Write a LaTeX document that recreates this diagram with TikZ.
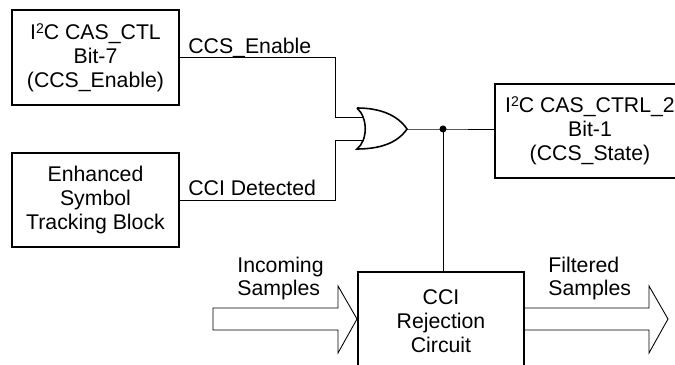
\documentclass[tikz,border=0pt]{standalone}
\usepackage{fontspec}
\setmainfont{Liberation Sans}
\newcommand{\itwoc}{I\raisebox{0.3em}{\fontsize{8}{8}\selectfont 2}C}
\tikzset{
  blockbox/.style={draw, line width=1pt, align=center, inner sep=0pt, font=\fontsize{12.1}{13.6}\selectfont},
  lowtext/.style={execute at begin node=\rule{0pt}{11.6pt}},
  wirelabel/.style={inner sep=0pt, align=left, font=\fontsize{12.1}{13.2}\selectfont},
  wire/.style={draw, line width=0.5pt},
}
\begin{document}
\begin{tikzpicture}
    \clip (0,0) rectangle (13.5,7.3);
    % blocks
    \node[blockbox, lowtext, minimum width=3.34cm, minimum height=1.9cm] (casctl) at (1.91, 6.15) {\itwoc{} CAS\_CTL\\Bit-7\\(CCS\_Enable)};
    \node[blockbox, lowtext, minimum width=3.34cm, minimum height=1.88cm] (tracking) at (1.91, 3.3) {Enhanced\\Symbol\\Tracking Block};
    \node[blockbox, lowtext, minimum width=3.8cm, minimum height=1.88cm] (casctrl) at (11.8, 4.68) {\itwoc{} CAS\_CTRL\_2\\Bit-1\\(CCS\_State)};
    \node[blockbox, minimum width=3.32cm, minimum height=1.96cm] (rejection) at (8.82, 0.88) {CCI\\Rejection\\Circuit};
    % or gate
    \draw[line width=0.9pt] (7.14, 5.14) .. controls (7.6, 5.14) and (7.95, 5.0) .. (8.14, 4.72) .. controls (7.95, 4.44) and (7.6, 4.32) .. (7.14, 4.32) .. controls (7.36, 4.5) and (7.36, 4.94) .. (7.14, 5.14);
    \coordinate (gatea) at (7.28, 4.95);
    \coordinate (gateb) at (7.28, 4.5);
    \coordinate (gateout) at (8.14, 4.72);
    \coordinate (bendtop) at (6.7, 6.15);
    \coordinate (bendbot) at (6.7, 3.3);
    \coordinate (junction) at (8.86, 4.72);
    % wires
    \draw[wire] (casctl.east) -- (bendtop) |- (gatea);
    \draw[wire] (tracking.east) -- (bendbot) |- (gateb);
    \draw[wire] (gateout) -- (junction) -- (junction -| casctrl.west);
    \draw[wire] (junction) -- (junction |- rejection.north);
    \fill (junction) circle (0.07);
    % sample arrows
    \draw[line width=0.5pt] (4.26, 1.14) -- (6.76, 1.14) -- (6.76, 1.58) -- (7.14, 0.92) -- (6.76, 0.24) -- (6.76, 0.7) -- (4.26, 0.7) -- cycle;
    \draw[line width=0.5pt] (rejection.east |- 0, 1.14) -- (12.98, 1.14) -- (12.98, 1.58) -- (13.36, 0.92) -- (12.98, 0.24) -- (12.98, 0.7) -- (rejection.east |- 0, 0.7);
    % labels
    \node[wirelabel, anchor=west] (enablelabel) at (3.76, 6.34) {CCS\_Enable};
    \node[wirelabel, anchor=west] (detectedlabel) at (3.76, 3.54) {CCI Detected};
    \node[wirelabel, anchor=west] (incoming) at (4.74, 1.73) {Incoming\\Samples};
    \node[wirelabel, anchor=west] (filtered) at (10.96, 1.73) {Filtered\\Samples};
\end{tikzpicture}
\end{document}
